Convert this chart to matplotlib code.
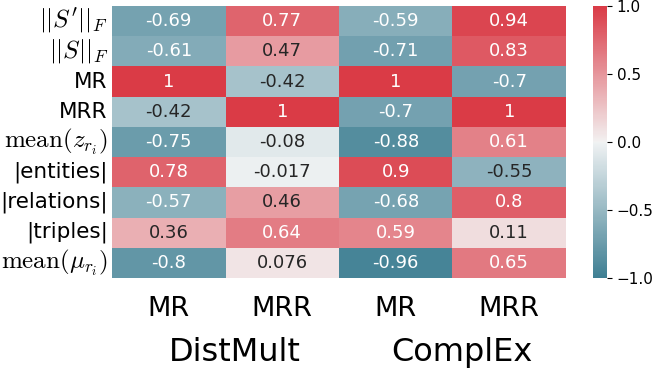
import matplotlib
matplotlib.use("Agg")
import matplotlib.pyplot as plt
import seaborn as sns
import numpy as np
import pandas as pd

row_labels = [r"$||S^{\prime}||_F$", r"$||S||_F$", "MR", "MRR",
              r"$\mathrm{mean}(z_{r_i})$", "|entities|", "|relations|",
              "|triples|", r"$\mathrm{mean}(\mu_{r_i})$"]
col_labels = ["MR", "MRR", "MR", "MRR"]
models = ["DistMult", "ComplEx"]

distmult_mr = [-0.69, -0.61, 1, -0.42, -0.75, 0.78, -0.57, 0.36, -0.8]
distmult_mrr = [0.77, 0.47, -0.42, 1, -0.08, -0.017, 0.46, 0.64, 0.076]
complex_mr = [-0.59, -0.71, 1, -0.7, -0.88, 0.9, -0.68, 0.59, -0.96]
complex_mrr = [0.94, 0.83, -0.7, 1, 0.61, -0.55, 0.8, 0.11, 0.65]

df = pd.DataFrame(np.column_stack([distmult_mr, distmult_mrr, complex_mr, complex_mrr]),
                  index=row_labels, columns=col_labels)

plt.rcParams['mathtext.fontset'] = 'cm'

fig = plt.figure(figsize=(6.64, 3.73), dpi=100)
ax = fig.add_axes([0.1687, 0.2547, 0.6837, 0.7292])
cax = fig.add_axes([0.8931, 0.2547, 0.0211, 0.7292])

cmap = sns.diverging_palette(220, 10, as_cmap=True)
sns.heatmap(df, ax=ax, cbar_ax=cax, cmap=cmap, vmin=-1, vmax=1,
            annot=True, fmt=".2g", annot_kws={"fontsize": 13})

ax.tick_params(length=0)
ax.set_yticklabels(row_labels, rotation=0)
for lbl in ax.get_yticklabels():
    # math labels were rendered a bit larger than the plain ones
    lbl.set_fontsize(18 if lbl.get_text().startswith("$") else 15.5)
ax.set_xticklabels(col_labels, rotation=0, fontsize=19.5)
ax.tick_params(axis='x', pad=13)
ax.tick_params(axis='y', pad=3)

for i, name in enumerate(models):
    ax.text(1.08 + 2 * i, 11.45, name, ha='center', va='center', fontsize=23)

cax.tick_params(labelsize=11)
cax.set_yticks([-1.0, -0.5, 0.0, 0.5, 1.0])

fig.savefig("out.png", dpi=100)
